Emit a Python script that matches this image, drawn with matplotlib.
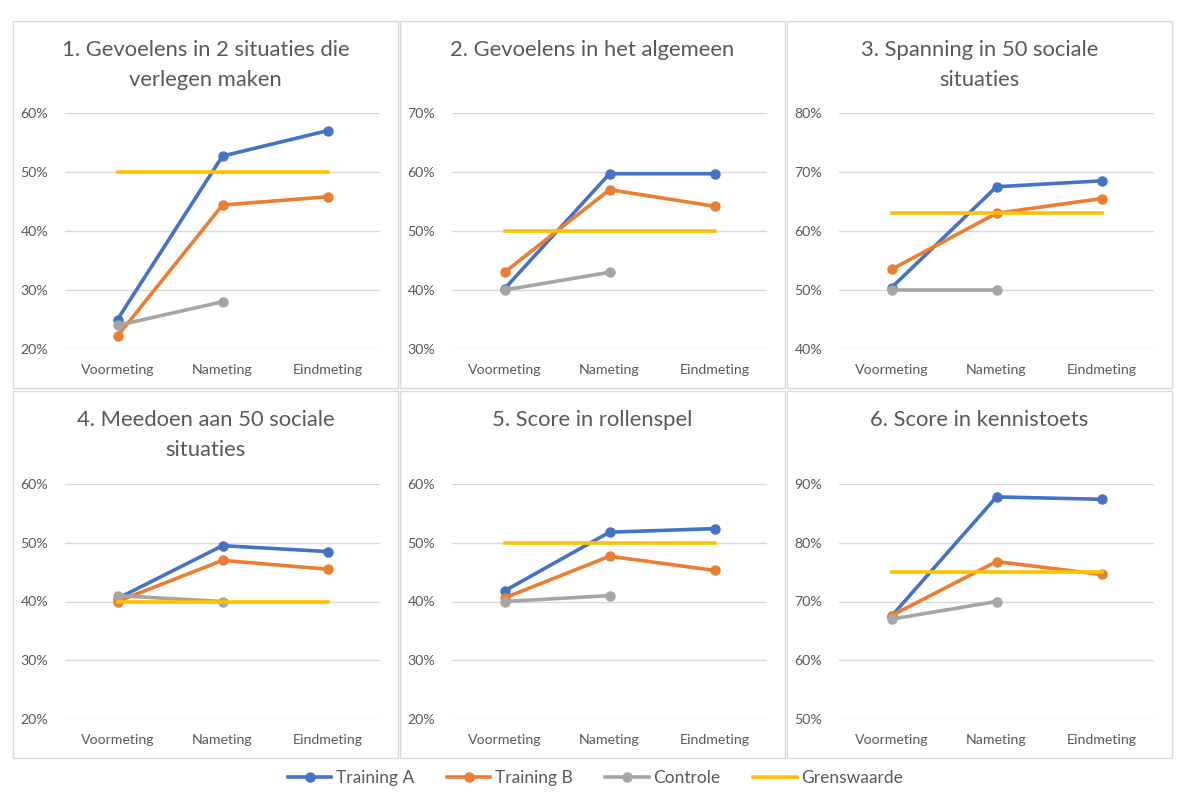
import matplotlib
matplotlib.use("Agg")
import matplotlib.pyplot as plt
from matplotlib.patches import Rectangle
from matplotlib.lines import Line2D
from matplotlib.ticker import PercentFormatter

plt.rcParams['font.family'] = ['Lato', 'DejaVu Sans']

metingen = ['Voormeting', 'Nameting', 'Eindmeting']
series_names = ['Training A', 'Training B', 'Controle', 'Grenswaarde']
colors = ['#4472C4', '#ED7D31', '#A5A5A5', '#FFC000']

titles = [
    '1. Gevoelens in 2 situaties die\nverlegen maken',
    '2. Gevoelens in het algemeen',
    '3. Spanning in 50 sociale\nsituaties',
    '4. Meedoen aan 50 sociale\nsituaties',
    '5. Score in rollenspel',
    '6. Score in kennistoets',
]
ylims = [(20, 60), (30, 70), (40, 80), (20, 60), (20, 60), (50, 90)]

training_a = [[25, 52.7, 57], [40.2, 59.7, 59.7], [50.4, 67.5, 68.5],
              [40.5, 49.5, 48.5], [41.8, 51.8, 52.4], [67.5, 87.8, 87.4]]
training_b = [[22.2, 44.4, 45.8], [43, 57, 54.2], [53.5, 63, 65.5],
              [40, 47, 45.5], [40.6, 47.7, 45.3], [67.6, 76.8, 74.6]]
controle = [[24, 28], [40, 43], [50, 50], [41, 40], [40, 41], [67, 70]]
grenswaarde = [50, 50, 63, 40, 50, 75]

W, H = 1191, 811
fig = plt.figure(figsize=(W / 100, H / 100), dpi=100)

box_x = [13, 400, 787]
box_y = [21, 391]
box_w, box_h = 385, 367
ax_x = [65, 452, 839]
ax_top = [113, 484]
ax_bot = [349, 719]
ax_w = 315

for i in range(6):
    r, c = divmod(i, 3)
    # panel border
    fig.add_artist(Rectangle((box_x[c] / W, 1 - (box_y[r] + box_h) / H), box_w / W, box_h / H,
                             transform=fig.transFigure, fill=False, edgecolor='#D9D9D9', linewidth=1))
    ax = fig.add_axes([ax_x[c] / W, 1 - ax_bot[r] / H, ax_w / W, (ax_bot[r] - ax_top[r]) / H])
    x = list(range(3))
    ax.plot(x, training_a[i], color=colors[0], lw=2.6, marker='o', ms=6.5, zorder=3)
    ax.plot(x, training_b[i], color=colors[1], lw=2.6, marker='o', ms=6.5, zorder=3)
    ax.plot(x[:2], controle[i], color=colors[2], lw=2.6, marker='o', ms=6.5, zorder=3)
    ax.plot(x, [grenswaarde[i]] * 3, color=colors[3], lw=2.6, zorder=4)
    ax.set_xlim(-0.5, 2.5)
    ax.set_ylim(*ylims[i])
    ax.set_yticks(range(ylims[i][0], ylims[i][1] + 1, 10))
    ax.yaxis.set_major_formatter(PercentFormatter(decimals=0))
    ax.set_xticks(x)
    ax.set_xticklabels(metingen)
    ax.grid(axis='y', color='#D9D9D9', lw=1)
    ax.set_axisbelow(True)
    for s in ax.spines.values():
        s.set_visible(False)
    ax.tick_params(length=0, labelsize=10.2, colors='#595959', pad=11)
    ax.tick_params(axis='y', pad=12)
    cx = (box_x[c] + box_w / 2) / W
    fig.text(cx, 1 - (box_y[r] + 19) / H, titles[i], ha='center', va='top',
             fontsize=15.8, color='#595959', linespacing=1.6)

handles = [Line2D([], [], color=colors[k], lw=2.6, marker='o' if k < 3 else None, ms=6.5)
           for k in range(4)]
fig.legend(handles, series_names, loc='center', bbox_to_anchor=(0.5, 1 - 778 / H), ncol=4,
           frameon=False, fontsize=12.5, labelcolor='#595959', handlelength=2.5,
           handletextpad=0.25, columnspacing=1.9)

fig.savefig('out.png', dpi=100)
